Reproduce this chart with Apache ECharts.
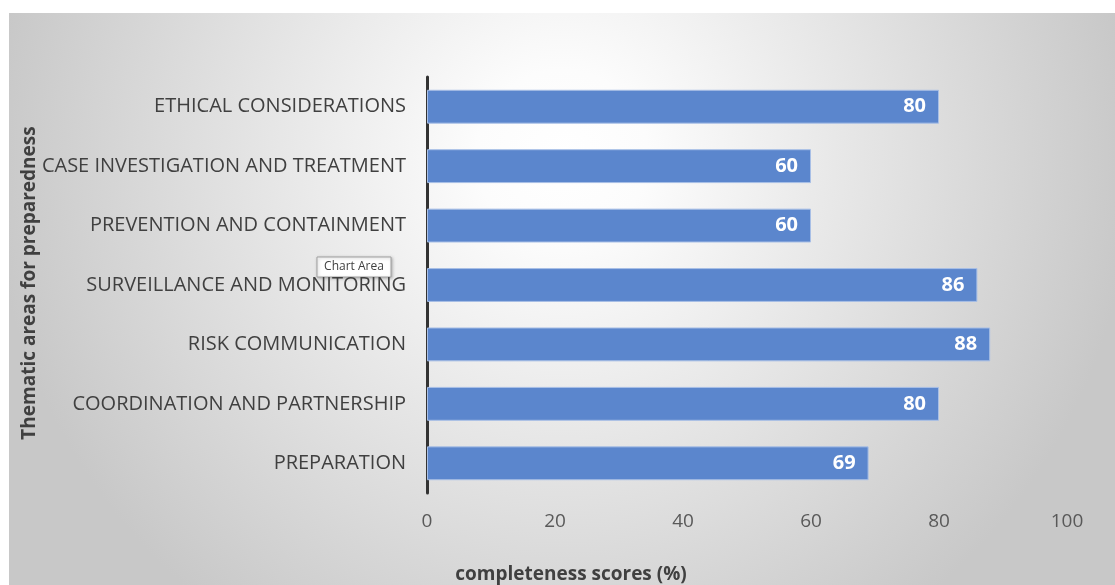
<!DOCTYPE html>
<html>
<head>
<meta charset="utf-8">
<script src="https://cdn.jsdelivr.net/npm/echarts@6/dist/echarts.min.js"></script>
<style>
html,body{margin:0;padding:0;background:#ffffff;}
#main{width:1115px;height:585px;}
</style>
</head>
<body>
<div id="main"></div>
<script>
const categories = [
  "ETHICAL CONSIDERATIONS",
  "CASE INVESTIGATION AND TREATMENT",
  "PREVENTION AND CONTAINMENT",
  "SURVEILLANCE AND MONITORING",
  "RISK COMMUNICATION",
  "COORDINATION AND PARTNERSHIP",
  "PREPARATION"
];
const scores = [80, 60, 60, 86, 88, 80, 69];
const xTicks = [0, 20, 40, 60, 80, 100];

const chart = echarts.init(document.getElementById('main'));
chart.setOption({
  animation: false,
  backgroundColor: '#ffffff',
  graphic: [
    {
      type: 'rect', z: -10, silent: true,
      shape: {x: 9, y: 13, width: 1106, height: 572},
      style: {
        fill: {
          type: 'radial', x: 0.5, y: 0.25, r: 1,
          colorStops: [
            {offset: 0, color: '#ffffff'},
            {offset: 0.15, color: '#fcfcfc'},
            {offset: 1, color: '#c8c8c8'}
          ]
        }
      }
    },
    {
      type: 'text', silent: true, z: 50,
      style: {
        text: 'Thematic areas for preparedness',
        font: 'bold 19px "Open Sans"', fill: '#404040',
        textAlign: 'center', textVerticalAlign: 'middle'
      },
      position: [30, 283], rotation: Math.PI / 2
    },
    {
      type: 'text', silent: true,
      style: {
        text: 'completeness scores (%)',
        font: 'bold 19px "Open Sans"', fill: '#404040',
        textAlign: 'center', textVerticalAlign: 'middle'
      },
      position: [571, 575]
    },
    {
      type: 'group', z: 100, position: [317, 257],
      children: [
        {type: 'rect', shape: {x: 0, y: 0, width: 74, height: 20},
         style: {fill: '#ffffff', stroke: '#a0a0a0', lineWidth: 1,
                 shadowBlur: 3, shadowColor: 'rgba(0,0,0,0.25)', shadowOffsetX: 1, shadowOffsetY: 1}},
        {type: 'text', style: {text: 'Chart Area', font: '12px "Open Sans"', fill: '#404040',
                 x: 37, y: 10, textAlign: 'center', textVerticalAlign: 'middle'}}
      ]
    }
  ],
  grid: {left: 427, right: 48, top: 77, bottom: 92, containLabel: false},
  xAxis: {
    type: 'value', min: xTicks[0], max: xTicks[xTicks.length - 1], interval: 20,
    axisLine: {show: false}, axisTick: {show: false}, splitLine: {show: false},
    axisLabel: {color: '#595959', fontSize: 19, fontFamily: 'Open Sans', margin: 19}
  },
  yAxis: {
    type: 'category', data: categories, inverse: true,
    axisLine: {show: true, lineStyle: {color: '#333333', width: 3}},
    axisTick: {show: false},
    axisLabel: {color: '#404040', fontSize: 20, fontFamily: 'Open Sans', margin: 21}
  },
  series: [{
    type: 'bar', data: scores, barWidth: '57%',
    itemStyle: {color: '#5b86cd', borderColor: '#a8bfe6', borderWidth: 1},
    label: {show: true, position: 'insideRight', distance: 13, color: '#ffffff',
            fontWeight: 'bold', fontSize: 20, fontFamily: 'Open Sans'}
  }]
});
</script>
</body>
</html>
